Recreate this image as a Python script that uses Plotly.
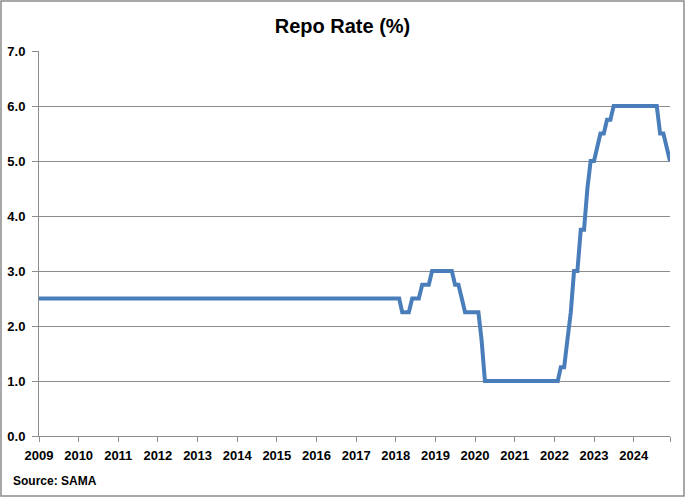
import plotly.graph_objects as go

# Knot points of the monthly SAMA repo rate series (linear between months)
dates = [
    "2009-01-01", "2018-02-01", "2018-03-01", "2018-05-01", "2018-06-01",
    "2018-08-01", "2018-09-01", "2018-11-01", "2018-12-01", "2019-06-01",
    "2019-07-01", "2019-08-01", "2019-09-01", "2019-10-01", "2020-02-01",
    "2020-03-01", "2020-04-01", "2022-02-01", "2022-03-01", "2022-04-01",
    "2022-05-01", "2022-06-01", "2022-07-01", "2022-08-01", "2022-09-01",
    "2022-10-01", "2022-11-01", "2022-12-01", "2023-01-01", "2023-02-01",
    "2023-03-01", "2023-04-01", "2023-05-01", "2023-06-01", "2023-07-01",
    "2024-08-01", "2024-09-01", "2024-10-01", "2024-11-01", "2024-12-01",
]
repo_rate = [
    2.5, 2.5, 2.25, 2.25, 2.5,
    2.5, 2.75, 2.75, 3.0, 3.0,
    2.75, 2.75, 2.5, 2.25, 2.25,
    1.75, 1.0, 1.0, 1.25, 1.25,
    1.75, 2.25, 3.0, 3.0, 3.75,
    3.75, 4.5, 5.0, 5.0, 5.25,
    5.5, 5.5, 5.75, 5.75, 6.0,
    6.0, 5.5, 5.5, 5.25, 5.0,
]

x_tick_vals = [f"{y}-01-01" for y in range(2009, 2025)] + ["2024-12-01"]
x_tick_text = [str(y) for y in range(2009, 2025)] + [""]
y_tick_vals = [0, 1, 2, 3, 4, 5, 6, 7]
y_tick_text = ["0.0", "1.0", "2.0", "3.0", "4.0", "5.0", "6.0", "7.0"]

W, H = 685, 497
L, R, T, B = 39, 15, 51, 61
pw, ph = W - L - R, H - T - B

FONT = "Liberation Sans, Arial, sans-serif"
GRAY = "#8c8c8c"

fig = go.Figure()
fig.add_trace(go.Scatter(
    x=dates, y=repo_rate, mode="lines",
    line=dict(color="#4A7EBB", width=4),
    hoverinfo="x+y", showlegend=False,
))

fig.update_layout(
    width=W, height=H,
    margin=dict(l=L, r=R, t=T, b=B),
    paper_bgcolor="white", plot_bgcolor="white",
    font=dict(family=FONT, color="black"),
    title=dict(
        text="<b>Repo Rate (%)</b>", x=0.5, xanchor="center",
        y=1 - 26 / H, yanchor="middle",
        font=dict(size=20, family=FONT, color="black"),
    ),
    xaxis=dict(
        type="date", automargin=False,
        range=["2009-01-01", "2024-12-01"],
        tickmode="array", tickvals=x_tick_vals, ticktext=x_tick_text,
        showgrid=False, zeroline=False,
        showline=True, linecolor=GRAY, linewidth=1,
        ticks="outside", ticklen=5, tickcolor=GRAY, tickwidth=1,
        tickfont=dict(size=13, family=FONT, color="black", weight="bold"),
        ticklabelstandoff=2,
    ),
    yaxis=dict(
        range=[0, 7], automargin=False,
        tickmode="array", tickvals=y_tick_vals, ticktext=y_tick_text,
        showgrid=True, gridcolor=GRAY, gridwidth=1,
        zeroline=False,
        showline=True, linecolor=GRAY, linewidth=1,
        ticks="outside", ticklen=6, tickcolor=GRAY, tickwidth=1,
        tickfont=dict(size=13, family=FONT, color="black", weight="bold"),
        ticklabelstandoff=4,
    ),
    shapes=[dict(
        type="rect", xref="paper", yref="paper",
        x0=-(L - 1) / pw, x1=1 + (R - 1) / pw,
        y0=-(B - 1) / ph, y1=1 + (T - 1) / ph,
        line=dict(color=GRAY, width=1.5), fillcolor="rgba(0,0,0,0)",
    )],
    annotations=[dict(
        text="<b>Source: SAMA</b>", xref="paper", yref="paper",
        x=-(L - 11) / pw, xanchor="left",
        y=-(481 - (T + ph)) / ph, yanchor="middle",
        showarrow=False, font=dict(size=12, family=FONT, color="black"),
    )],
)

fig.write_html("out.html")
